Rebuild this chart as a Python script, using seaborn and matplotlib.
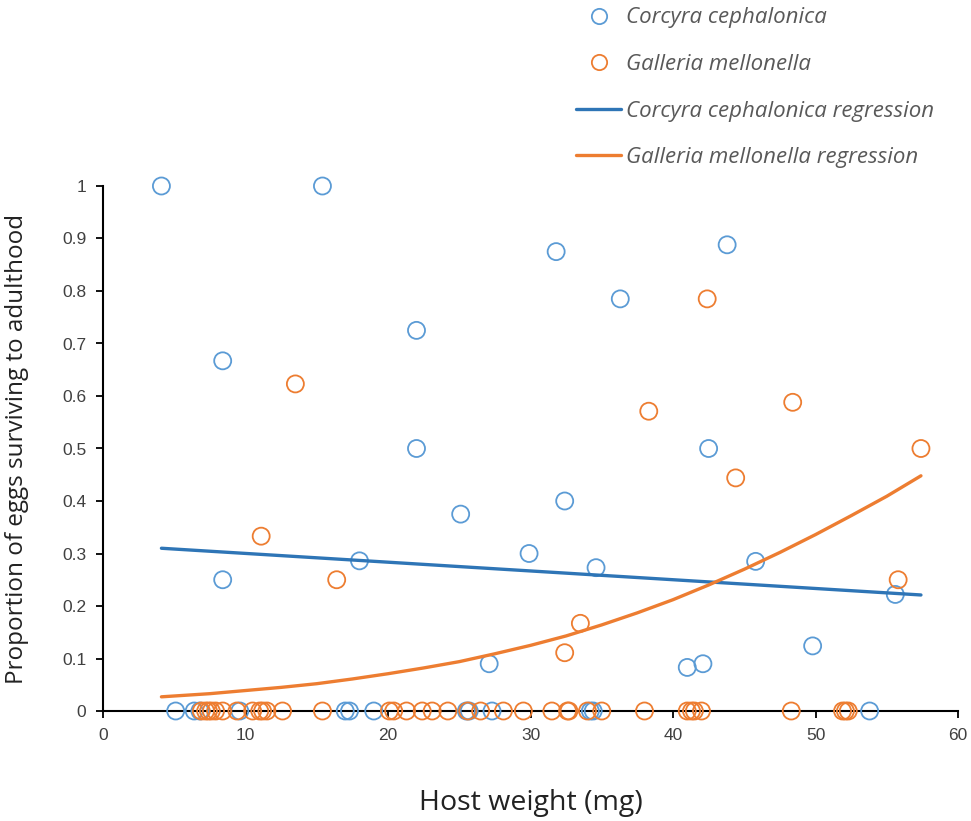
import matplotlib
matplotlib.use("Agg")
import matplotlib.pyplot as plt
import seaborn as sns
import pandas as pd
from matplotlib.lines import Line2D

# ---- data ----
cc_x = [4.1, 15.4, 8.4, 8.4, 22.0, 22.0, 25.1, 27.1, 29.9, 31.8, 32.4, 34.6, 36.3,
        41.0, 42.1, 42.5, 43.8, 45.8, 49.8, 55.6, 18.0,
        5.1, 6.4, 6.8, 9.6, 17.0, 17.3, 19.0, 25.5, 25.7, 27.3, 34.2, 34.4, 53.8]
cc_y = [1.0, 1.0, 0.667, 0.25, 0.725, 0.5, 0.375, 0.09, 0.30, 0.875, 0.40, 0.273, 0.785,
        0.083, 0.09, 0.5, 0.888, 0.285, 0.124, 0.222, 0.286,
        0, 0, 0, 0, 0, 0, 0, 0, 0, 0, 0, 0, 0]

gm_x = [13.5, 11.1, 16.4, 33.5, 32.4, 38.3, 42.4, 44.4, 48.4, 57.4, 55.8,
        6.9, 7.2, 7.4, 7.6, 7.9, 8.4, 9.4, 10.5, 11.0, 11.2, 11.5, 12.6, 15.4,
        20.1, 20.4, 21.3, 22.4, 23.1, 24.2, 25.6, 26.5, 28.1, 29.5, 31.5, 32.6,
        32.7, 34.0, 35.0, 38.0, 41.0, 41.3, 41.5, 42.0, 48.3, 51.9, 52.1, 52.3]
gm_y = [0.623, 0.333, 0.25, 0.167, 0.111, 0.571, 0.785, 0.444, 0.588, 0.5, 0.25,
        0, 0, 0, 0, 0, 0, 0, 0, 0, 0, 0, 0, 0,
        0, 0, 0, 0, 0, 0, 0, 0, 0, 0, 0, 0,
        0, 0, 0, 0, 0, 0, 0, 0, 0, 0, 0, 0]

cc_reg_x = [4.1, 57.4]
cc_reg_y = [0.310, 0.221]
gm_reg_x = [4.1, 7.5, 10, 12.5, 15, 17.5, 20, 22.5, 25, 27.5, 30, 32.5, 35, 37.5,
            40, 42.5, 45, 47.5, 50, 52.5, 55, 57.4]
gm_reg_y = [0.027, 0.033, 0.039, 0.045, 0.052, 0.061, 0.071, 0.082, 0.094, 0.109,
            0.125, 0.143, 0.164, 0.187, 0.212, 0.240, 0.270, 0.302, 0.336, 0.372,
            0.409, 0.448]

species = ["Corcyra cephalonica", "Galleria mellonella"]
x_ticks = [0, 10, 20, 30, 40, 50, 60]
y_ticks = [0, 0.1, 0.2, 0.3, 0.4, 0.5, 0.6, 0.7, 0.8, 0.9, 1]
y_ticklabels = ["0", "0.1", "0.2", "0.3", "0.4", "0.5", "0.6", "0.7", "0.8", "0.9", "1"]

pts_color = {species[0]: "#5B9BD5", species[1]: "#ED7D31"}
line_color = {species[0]: "#2E75B6", species[1]: "#ED7D31"}

pts = pd.DataFrame({
    "x": cc_x + gm_x,
    "y": cc_y + gm_y,
    "sp": [species[0]] * len(cc_x) + [species[1]] * len(gm_x),
})
reg = pd.DataFrame({
    "x": cc_reg_x + gm_reg_x,
    "y": cc_reg_y + gm_reg_y,
    "sp": [species[0]] * len(cc_reg_x) + [species[1]] * len(gm_reg_x),
})

sns.set_style("white")
plt.rcParams["font.family"] = ["Liberation Sans", "DejaVu Sans"]

fig = plt.figure(figsize=(9.71, 8.21), dpi=100)
ax = fig.add_axes([103 / 971, 1 - 711 / 821, 855 / 971, 525 / 821])

# open circles
for sp in species:
    d = pts[pts.sp == sp]
    sns.scatterplot(data=d, x="x", y="y", ax=ax, marker="o", s=150,
                    facecolors="none", edgecolor=pts_color[sp], linewidth=1.3,
                    clip_on=False, zorder=3, legend=False)
    sc = ax.collections[-1]
    sc.set_facecolor("none")
    sc.set_edgecolor(pts_color[sp])

sns.lineplot(data=reg, x="x", y="y", hue="sp", palette=line_color, ax=ax,
             linewidth=2.4, legend=False, zorder=4, sort=True, estimator=None)

ax.set_xlim(0, 60)
ax.set_ylim(0, 1)
ax.set_xticks(x_ticks)
ax.set_yticks(y_ticks)
ax.set_yticklabels(y_ticklabels)
for s in ["top", "right"]:
    ax.spines[s].set_visible(False)
for s in ["left", "bottom"]:
    ax.spines[s].set_color("black")
    ax.spines[s].set_linewidth(1.5)
ax.tick_params(axis="both", direction="out", length=5, width=1.3, color="black",
               labelsize=12.5, labelcolor="#404040", pad=7, left=True, bottom=True)

ax.set_xlabel("Host weight (mg)", fontsize=20.5, fontfamily=["Open Sans", "DejaVu Sans"],
              color="#222222", labelpad=33)
ax.set_ylabel("Proportion of eggs surviving to adulthood", fontsize=17.5,
              fontfamily=["Open Sans", "DejaVu Sans"], color="#222222", labelpad=24)

handles = [
    Line2D([], [], marker="o", linestyle="none", markerfacecolor="none",
           markeredgecolor=pts_color[species[0]], markersize=11, markeredgewidth=1.3),
    Line2D([], [], marker="o", linestyle="none", markerfacecolor="none",
           markeredgecolor=pts_color[species[1]], markersize=11, markeredgewidth=1.3),
    Line2D([], [], color=line_color[species[0]], linewidth=2.4),
    Line2D([], [], color=line_color[species[1]], linewidth=2.4),
]
labels = [species[0], species[1], species[0] + " regression", species[1] + " regression"]
leg = fig.legend(handles, labels, loc="upper left",
                 bbox_to_anchor=(572 / 971, 1 - 3 / 821),
                 frameon=False, handlelength=2.0, handletextpad=0.25,
                 labelspacing=1.15, borderaxespad=0.0, borderpad=0.2,
                 prop={"family": ["Open Sans", "DejaVu Sans"], "style": "italic", "size": 16})
for t in leg.get_texts():
    t.set_color("#595959")

fig.savefig("out.png", dpi=100)
